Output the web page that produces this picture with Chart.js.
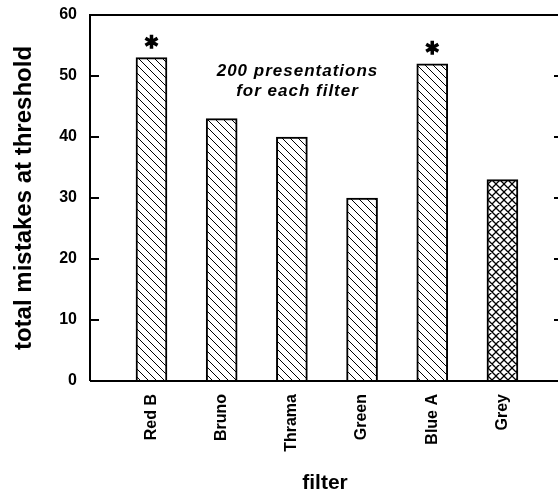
<!DOCTYPE html>
<html>
<head>
<meta charset="utf-8">
<script src="https://cdn.jsdelivr.net/npm/chart.js@4"></script>
<style>
  html, body { margin: 0; padding: 0; background: #fff; overflow: hidden; }
  #wrap { width: 562px; height: 492px; }
</style>
</head>
<body>
<div id="wrap"><canvas id="myChart"></canvas></div>
<script>
const filters = ['Red B', 'Bruno', 'Thrama', 'Green', 'Blue A', 'Grey'];
const mistakes = [53, 43, 40, 30, 52, 33];
const significant = [true, false, false, false, true, false];
const crossHatched = [false, false, false, false, false, true];
const yTicks = [0, 10, 20, 30, 40, 50, 60];
const noteLines = ['200 presentations', 'for each filter'];

Chart.defaults.font.family = 'Arial, "Liberation Sans", Helvetica, sans-serif';
Chart.defaults.color = '#000';

const canvas = document.getElementById('myChart');
const ctx = canvas.getContext('2d');

// diagonal hatch fills, "\" lines, optionally crossed
function hatch(cross) {
  const s = 8;
  const c = document.createElement('canvas');
  c.width = s; c.height = s;
  const g = c.getContext('2d');
  g.fillStyle = '#fff';
  g.fillRect(0, 0, s, s);
  g.strokeStyle = '#000';
  g.lineWidth = cross ? 1.3 : 1;
  g.beginPath();
  g.moveTo(-1, -1); g.lineTo(s + 1, s + 1);
  g.moveTo(-1, s - 1); g.lineTo(1, s + 1);
  g.moveTo(s - 1, -1); g.lineTo(s + 1, 1);
  if (cross) {
    g.moveTo(s + 1, -1); g.lineTo(-1, s + 1);
    g.moveTo(1, -1); g.lineTo(-1, 1);
    g.moveTo(s + 1, s - 1); g.lineTo(s - 1, s + 1);
  }
  g.stroke();
  return ctx.createPattern(c, 'repeat');
}

const frame = {
  id: 'frame',
  afterDraw(chart) {
    const { ctx, chartArea: a, scales } = chart;
    const y = scales.y;
    ctx.save();
    ctx.strokeStyle = '#000';
    ctx.lineWidth = 2;
    ctx.beginPath();
    ctx.moveTo(a.left, a.bottom); ctx.lineTo(a.left, a.top);
    ctx.lineTo(a.right, a.top); ctx.lineTo(a.right, a.bottom);
    ctx.lineTo(a.left, a.bottom);
    ctx.stroke();
    // inward ticks on both sides
    y.ticks.forEach(t => {
      const py = y.getPixelForValue(t.value);
      ctx.beginPath();
      ctx.moveTo(a.left, py); ctx.lineTo(a.left + 9, py);
      ctx.moveTo(a.right, py); ctx.lineTo(a.right - 6, py);
      ctx.stroke();
    });

    // asterisks above significant bars
    const meta = chart.getDatasetMeta(0);
    ctx.lineWidth = 3.5;
    ctx.lineCap = 'butt';
    significant.forEach((s, i) => {
      if (!s) return;
      const bar = meta.data[i];
      const cx = bar.x, cy = bar.y - 16, r = 7;
      ctx.beginPath();
      for (let k = 0; k < 3; k++) {
        const ang = Math.PI / 2 + k * Math.PI / 3;
        ctx.moveTo(cx - r * Math.cos(ang), cy - r * Math.sin(ang));
        ctx.lineTo(cx + r * Math.cos(ang), cy + r * Math.sin(ang));
      }
      ctx.stroke();
    });

    // note
    const x = scales.x;
    ctx.fillStyle = '#000';
    ctx.font = 'italic bold 17px Arial, "Liberation Sans", sans-serif';
    ctx.letterSpacing = '1px';
    ctx.textAlign = 'center';
    ctx.textBaseline = 'middle';
    const nx = x.getPixelForValue(3.08);
    ctx.fillText(noteLines[0], nx, y.getPixelForValue(50.8));
    ctx.fillText(noteLines[1], nx, y.getPixelForValue(47.5));
    ctx.restore();
  }
};

const data = {
  datasets: [{
    data: filters.map((f, i) => ({ x: i + 1, y: mistakes[i] })),
    backgroundColor: crossHatched.map(c => hatch(c)),
    borderColor: '#000',
    borderWidth: 2,
    borderSkipped: 'bottom',
    barThickness: 31
  }]
};

const config = {
  type: 'bar',
  data,
  plugins: [frame],
  options: {
    responsive: true,
    maintainAspectRatio: false,
    animation: false,
    layout: { padding: { left: 0, top: 15, right: 2, bottom: 0 } },
    plugins: { legend: { display: false }, tooltip: { enabled: false } },
    scales: {
      x: {
        type: 'linear',
        offset: false,
        min: 0.124,
        max: 6.82,
        grid: { display: false, drawTicks: false, offset: false },
        border: { display: false },
        afterBuildTicks: s => { s.ticks = filters.map((f, i) => ({ value: i + 1 })); },
        afterFit: s => { s.height = 111; s.paddingLeft = 0; s.paddingRight = 0; },
        ticks: {
          autoSkip: false,
          minRotation: 90,
          maxRotation: 90,
          padding: 13,
          font: { size: 16, weight: 'bold' },
          callback: (v, i) => filters[i]
        },
        title: {
          display: true,
          text: 'filter',
          font: { size: 21, weight: 'bold', lineHeight: 0.8 },
          padding: { top: 0, bottom: 0 }
        }
      },
      y: {
        min: 0,
        max: 60,
        grid: { display: false, drawTicks: false },
        border: { display: false },
        afterBuildTicks: s => { s.ticks = yTicks.map(v => ({ value: v })); },
        afterFit: s => { s.width = 90; s.paddingTop = 0; s.paddingBottom = 0; },
        ticks: {
          padding: 13,
          font: { size: 16, weight: 'bold' }
        },
        title: {
          display: true,
          text: 'total mistakes at threshold',
          font: { size: 24, weight: 'bold', lineHeight: 1 },
          padding: { top: 12, bottom: 0 }
        }
      }
    }
  }
};

const myChart = new Chart(canvas, config);
</script>
</body>
</html>
